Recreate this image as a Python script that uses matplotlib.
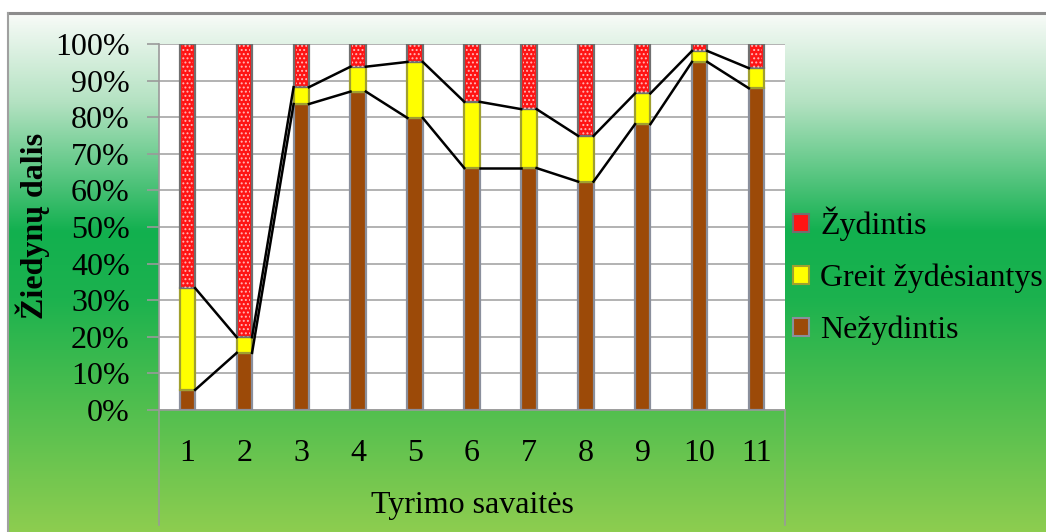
import matplotlib.pyplot as plt
import numpy as np
from matplotlib.colors import LinearSegmentedColormap
from matplotlib.patches import Patch

plt.rcParams['font.family'] = ['Liberation Serif', 'DejaVu Serif']
plt.rcParams['hatch.linewidth'] = 0.9

# share of inflorescences per week (%)
savaites = ['1', '2', '3', '4', '5', '6', '7', '8', '9', '10', '11']
nezydintis = [5.5, 15.6, 83.6, 87.0, 79.8, 66.1, 66.1, 62.4, 78.1, 95.1, 87.9]
greit_zydesiantys = [27.8, 4.3, 4.6, 6.8, 15.3, 18.1, 16.1, 12.5, 8.4, 3.0, 5.5]
zydintis = [66.7, 80.1, 11.8, 6.2, 4.9, 15.8, 17.8, 25.1, 13.5, 1.9, 6.6]

W, H = 1046, 532
FS = 23
fig = plt.figure(figsize=(W / 100, H / 100), dpi=100)
fig.patch.set_facecolor('white')

# gradient background of the chart area
bg = fig.add_axes([0, 0, 1, 1])
bg.set_xlim(0, W)
bg.set_ylim(H, 0)
bg.axis('off')
grad = LinearSegmentedColormap.from_list(
    'fon', [(0.0, '#f8fbf8'), (0.17, '#b4e2c2'), (0.42, '#12b04f'),
            (0.55, '#1cb24e'), (1.0, '#8dcd50')])
bg.imshow(np.linspace(0, 1, 256).reshape(-1, 1), cmap=grad, aspect='auto',
          extent=(8, W, H, 13), zorder=0)
bg.plot([8, W], [13, 13], color='#8c8c8c', lw=2.2, zorder=1)
bg.plot([8, 8], [13, H], color='#a0a0a0', lw=1.5, zorder=1)
# category axis box lines
bg.plot([159, 159], [410, 525], color='#9a9a9a', lw=1.2, zorder=1)
bg.plot([785, 785], [410, 525], color='#9a9a9a', lw=1.2, zorder=1)

ax = fig.add_axes([159 / W, (H - 410) / H, (785 - 159) / W, (410 - 44) / H])
ax.set_facecolor('white')

x = np.arange(len(savaites))
n = np.array(nezydintis)
g = np.array(greit_zydesiantys)
z = np.array(zydintis)
tot = n + g + z
n_p = n / tot * 100
g_p = g / tot * 100
z_p = z / tot * 100

bw = 0.27
ax.bar(x, n_p, bw, color='#9c4a08', edgecolor='#8a8f9c', lw=1.6, zorder=3)
ax.bar(x, g_p, bw, bottom=n_p, color='#ffff00', edgecolor='#a0a030', lw=1.6, zorder=3)
ax.bar(x, z_p, bw, bottom=n_p + g_p, color='#ff1414', edgecolor='#707070', lw=1.6, zorder=3)
plt.rcParams['hatch.color'] = '#ffb8b8'
ax.bar(x, z_p, bw * 0.75, bottom=n_p + g_p, color='none', lw=0, hatch='....', zorder=4)

# series lines between neighbouring bars
for top in (n_p, n_p + g_p):
    for i in range(len(x) - 1):
        ax.plot([x[i] + bw / 2, x[i + 1] - bw / 2], [top[i], top[i + 1]],
                color='black', lw=1.8, zorder=5)

ax.set_xlim(-0.5, len(x) - 0.5)
ax.set_ylim(0, 100)
ax.set_yticks(np.arange(0, 101, 10))
ax.set_yticklabels([f'{v}%' for v in range(0, 101, 10)])
ax.set_xticks(x)
ax.set_xticklabels(savaites)
ax.yaxis.grid(True, color='#a6a6a6', lw=1.2, zorder=0)
ax.set_axisbelow(True)
for s in ('top', 'right'):
    ax.spines[s].set_visible(False)
ax.spines['left'].set_color('#9a9a9a')
ax.spines['bottom'].set_color('#9a9a9a')
ax.spines['left'].set_linewidth(1.2)
ax.spines['bottom'].set_linewidth(1.2)
ax.tick_params(axis='y', length=9, width=1.2, color='#9a9a9a', pad=12, labelsize=FS)
ax.tick_params(axis='x', length=0, pad=21, labelsize=FS)

fig.text(33 / W, (H - 226) / H, 'Žiedynų dalis', rotation=90, fontsize=FS,
         fontweight='bold', ha='center', va='center')
fig.text(472 / W, (H - 505) / H, 'Tyrimo savaitės', fontsize=FS,
         ha='center', va='center')

handles = [Patch(facecolor='#ff1414', edgecolor='#707070', lw=1.5),
           Patch(facecolor='#ffff00', edgecolor='#a0a030', lw=1.5),
           Patch(facecolor='#9c4a08', edgecolor='#8a8f9c', lw=1.5)]
fig.legend(handles, ['Žydintis', 'Greit žydėsiantys', 'Nežydintis'],
           loc='center left', bbox_to_anchor=(793 / W, (H - 276) / H),
           frameon=False, fontsize=FS, handlelength=0.5, handleheight=0.5,
           handletextpad=0.35, labelspacing=0.7, borderpad=0, borderaxespad=0)

fig.savefig('out.png', dpi=100)
